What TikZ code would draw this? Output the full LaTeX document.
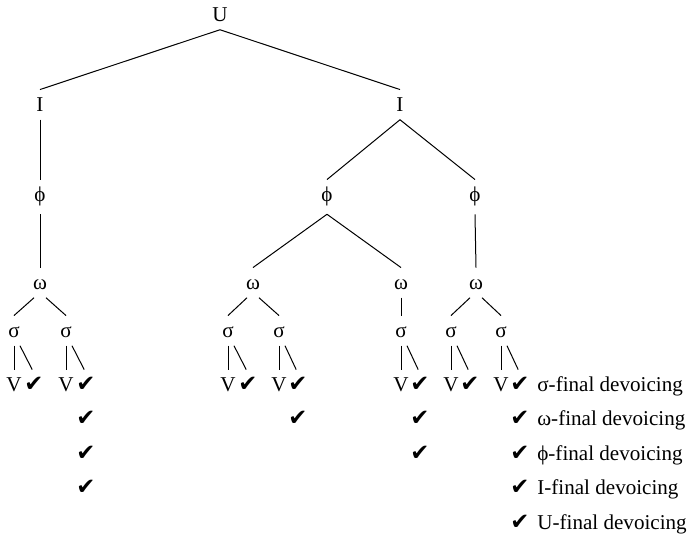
\documentclass[tikz,border=0pt]{standalone}
\usepackage{fontspec}
\setmainfont{Liberation Serif}
\newfontfamily\checkfont{DejaVu Sans}
\newcommand{\chkmark}{{\checkfont\fontsize{12.5}{14}\selectfont ✔}}

\begin{document}
\begin{tikzpicture}[
    x=0.55pt, y=-0.55pt,
    font=\fontsize{11.6}{14}\selectfont,
    lev/.style={anchor=base, inner xsep=0pt, inner ysep=4.6pt,
                text height=7pt, text depth=0pt},
    phinode/.style={lev, text depth=2.5pt},
    chk/.style={lev},
    legend/.style={anchor=base west, inner sep=0pt},
    line/.style={line width=0.55pt}
]
\useasboundingbox (0,0) rectangle (689,538);

% Utterance
\node[lev] (u) at (220,21) {U};

% Intonational phrases
\node[lev] (iL) at (40,111) {I};
\node[lev] (iR) at (400,111) {I};

% Phonological phrases
\node[phinode] (phL) at (40,201) {ϕ};
\node[phinode] (phM) at (327,201) {ϕ};
\node[phinode] (phR) at (475,201) {ϕ};

% Prosodic words
\node[lev] (wA) at (40,289) {ω};
\node[lev] (wB) at (253,289) {ω};
\node[lev] (wC) at (401,289) {ω};
\node[lev] (wD) at (476,289) {ω};

% Syllables
\node[lev] (sA) at (14,337) {σ};
\node[lev] (sB) at (66,337) {σ};
\node[lev] (sC) at (228,337) {σ};
\node[lev] (sD) at (279,337) {σ};
\node[lev] (sE) at (401,337) {σ};
\node[lev] (sF) at (451,337) {σ};
\node[lev] (sG) at (501,337) {σ};

% Vowels and checks
\node[lev] (vA) at (14,391) {V};
\node[lev] (vB) at (66,391) {V};
\node[lev] (vC) at (228,391) {V};
\node[lev] (vD) at (279,391) {V};
\node[lev] (vE) at (401,391) {V};
\node[lev] (vF) at (451,391) {V};
\node[lev] (vG) at (501,391) {V};
\node[chk] (kA) at (34,391) {\chkmark};
\node[chk] (kB) at (86,391) {\chkmark};
\node[chk] (kC) at (248,391) {\chkmark};
\node[chk] (kD) at (298,391) {\chkmark};
\node[chk] (kE) at (420,391) {\chkmark};
\node[chk] (kF) at (470,391) {\chkmark};
\node[chk] (kG) at (520,391) {\chkmark};

% Higher-level checks
\node[chk] (kB2) at (86,425.5) {\chkmark};
\node[chk] (kB3) at (86,460) {\chkmark};
\node[chk] (kB4) at (86,494.5) {\chkmark};
\node[chk] (kD2) at (298,425.5) {\chkmark};
\node[chk] (kE2) at (420,425.5) {\chkmark};
\node[chk] (kE3) at (420,460) {\chkmark};
\node[chk] (kG2) at (520,425.5) {\chkmark};
\node[chk] (kG3) at (520,460) {\chkmark};
\node[chk] (kG4) at (520,494.5) {\chkmark};
\node[chk] (kG5) at (520,529) {\chkmark};

% Legend
\node[legend] (tS) at (537,391) {σ-final devoicing};
\node[legend] (tW) at (537,425.5) {ω-final devoicing};
\node[legend] (tP) at (537,460) {ϕ-final devoicing};
\node[legend] (tI) at (537,494.5) {I-final devoicing};
\node[legend] (tU) at (537,529) {U-final devoicing};

% Branches
\draw[line] (u.south) -- (iL.north);
\draw[line] (u.south) -- (iR.north);
\draw[line] (iL.south) -- (phL.north);
\draw[line] (iR.south) -- (phM.north);
\draw[line] (iR.south) -- (phR.north);
\draw[line] (phL.south) -- (wA.north);
\draw[line] (phM.south) -- (wB.north);
\draw[line] (phM.south) -- (wC.north);
\draw[line] (phR.south) -- (wD.north);

\draw[line] ([xshift=-3.3pt]wA.south) -- (sA.north);
\draw[line] ([xshift=3.3pt]wA.south) -- (sB.north);
\draw[line] ([xshift=-3.3pt]wB.south) -- (sC.north);
\draw[line] ([xshift=3.3pt]wB.south) -- (sD.north);
\draw[line] (wC.south) -- (sE.north);
\draw[line] ([xshift=-3.3pt]wD.south) -- (sF.north);
\draw[line] ([xshift=3.3pt]wD.south) -- (sG.north);

% Syllable to vowel and check
\foreach \n in {A,B,C,D,E,F,G} {
    \draw[line] (s\n.south) -- (v\n.north);
    \draw[line] ([xshift=3.3pt]s\n.south) -- ([xshift=-1pt]k\n.north);
}

\end{tikzpicture}
\end{document}
